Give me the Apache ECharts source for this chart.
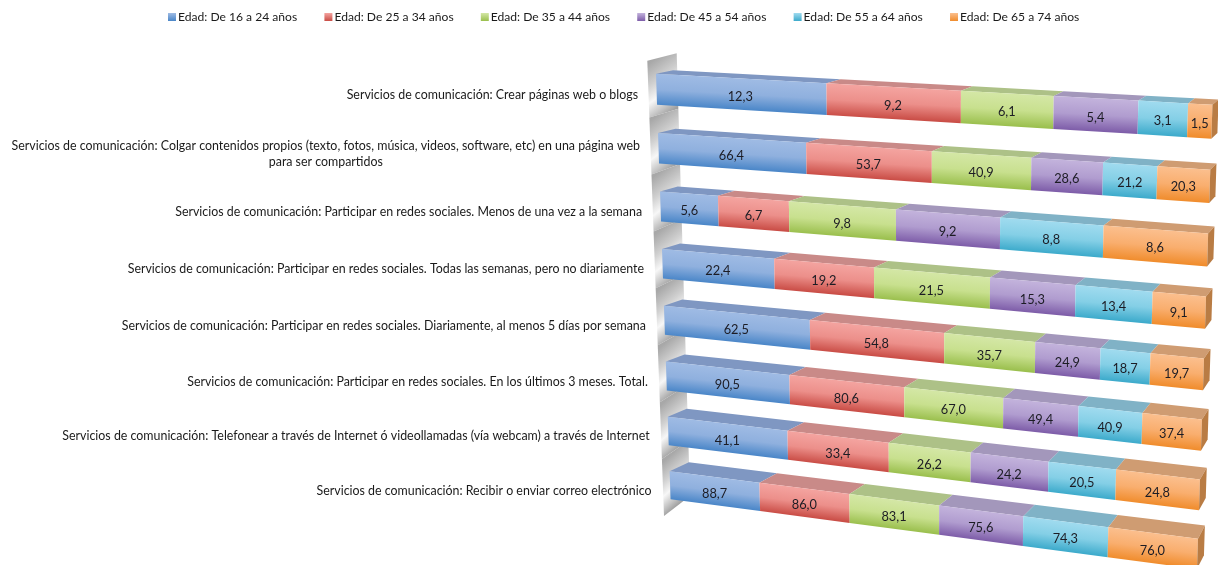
<!DOCTYPE html>
<html><head><meta charset="utf-8">
<style>html,body{margin:0;padding:0;background:#fff}#c{width:1218px;height:565px}</style>
<script src="https://cdn.jsdelivr.net/npm/echarts@6/dist/echarts.min.js"></script>
</head><body><div id="c"></div>
<script>
var categories = [
 "Servicios de comunicación: Crear páginas web o blogs",
 "Servicios de comunicación: Colgar contenidos propios (texto, fotos, música, videos, software, etc) en una página web\npara ser compartidos",
 "Servicios de comunicación: Participar en redes sociales. Menos de una vez a la semana",
 "Servicios de comunicación: Participar en redes sociales. Todas las semanas, pero no diariamente",
 "Servicios de comunicación: Participar en redes sociales. Diariamente, al menos 5 días por semana",
 "Servicios de comunicación: Participar en redes sociales. En los últimos 3 meses. Total.",
 "Servicios de comunicación: Telefonear a través de Internet ó videollamadas (vía webcam) a través de Internet",
 "Servicios de comunicación: Recibir o enviar correo electrónico"
];
var names = ["Edad: De 16 a 24 años","Edad: De 25 a 34 años","Edad: De 35 a 44 años","Edad: De 45 a 54 años","Edad: De 55 a 64 años","Edad: De 65 a 74 años"];
var age16 = [12.3,66.4,5.6,22.4,62.5,90.5,41.1,88.7];
var age25 = [9.2,53.7,6.7,19.2,54.8,80.6,33.4,86.0];
var age35 = [6.1,40.9,9.8,21.5,35.7,67.0,26.2,83.1];
var age45 = [5.4,28.6,9.2,15.3,24.9,49.4,24.2,75.6];
var age55 = [3.1,21.2,8.8,13.4,18.7,40.9,20.5,74.3];
var age65 = [1.5,20.3,8.6,9.1,19.7,37.4,24.8,76.0];
var groups = [age16,age25,age35,age45,age55,age65];

var W = 1218, H = 565, FONT = 'Lato', BAR = 0.52;
var frontTop = ['#9fbbe4','#f4a4a0','#d4e7a6','#c3b3dc','#a0dbef','#fbbf8e'];
var frontMid = ['#8fb0de','#ec8f8a','#c8e08e','#b09ccf','#84cfe6','#f9ae6e'];
var frontBot = ['#4a86c8','#c94c45','#9abf4d','#7d5ca8','#3caacb','#f08c2c'];
var topFace  = ['#7f97c2','#c98a88','#adc187','#a397bb','#80b2c6','#cf9c72'];
var sideFace = '#b97c44';

function homography(q){
  var x0=q[0][0],y0=q[0][1],x1=q[1][0],y1=q[1][1],x2=q[2][0],y2=q[2][1],x3=q[3][0],y3=q[3][1];
  var dx1=x1-x2,dx2=x3-x2,sx=x0-x1+x2-x3,dy1=y1-y2,dy2=y3-y2,sy=y0-y1+y2-y3;
  var den=dx1*dy2-dx2*dy1,g=(sx*dy2-dx2*sy)/den,h=(dx1*sy-sx*dy1)/den;
  var a=x1-x0+g*x1,b=x3-x0+h*x3,d=y1-y0+g*y1,e=y3-y0+h*y3;
  return function(u,v){var w=g*u+h*v+1;return [(a*u+b*v+x0)/w,(d*u+e*v+y0)/w];};
}
var front = homography([[655.5,59.5],[1213,89],[1196.5,583],[671,512]]);
var back  = homography([[672.5,56],[1219,84],[1203.5,569],[690.5,502.5]]);
function lerp(a,b,t){return [a[0]+(b[0]-a[0])*t,a[1]+(b[1]-a[1])*t];}

function poly(pts,fill){return {type:'polygon',shape:{points:pts},style:{fill:fill,stroke:null}};}
function grad(tl,tr,bl,br,s){
  var P=lerp(tl,tr,.5),Q=lerp(bl,br,.5),ex=tr[0]-tl[0],ey=tr[1]-tl[1],L=Math.hypot(ex,ey)||1;
  var nx=-ey/L,ny=ex/L,h=(Q[0]-P[0])*nx+(Q[1]-P[1])*ny;
  return {type:'linear',global:true,x:P[0],y:P[1],x2:P[0]+nx*h,y2:P[1]+ny*h,
    colorStops:[{offset:0,color:frontTop[s]},{offset:.5,color:frontMid[s]},{offset:1,color:frontBot[s]}]};
}
function segment(s){
  return function(params,api){
    var start=api.value(0),end=api.value(1),row=api.value(2),val=api.value(3);
    var a=api.coord([start,row]),b=api.coord([end,row]),band=api.size([0,1])[1];
    var u0=a[0]/W,u1=b[0]/W,vc=a[1]/H,hv=band/H*BAR/2,v0=vc-hv,v1=vc+hv;
    var tl=front(u0,v0),tr=front(u1,v0),bl=front(u0,v1),br=front(u1,v1);
    var btl=back(u0,v0),btr=back(u1,v0),bbr=back(u1,v1);
    var kids=[poly([tl,tr,btr,btl],topFace[s]),poly([tl,tr,br,bl],grad(tl,tr,bl,br,s))];
    if(s===5) kids.push(poly([tr,btr,bbr,br],sideFace));
    var c=front((u0+u1)/2,vc);
    kids.push({type:'text',style:{text:val.toFixed(1).replace('.',','),x:c[0],y:c[1]+2.5,align:'center',verticalAlign:'middle',font:'12.8px '+FONT,fill:'#1c1c24'}});
    return {type:'group',children:kids};
  };
}
var measure=document.createElement('canvas').getContext('2d');
function labelItem(params,api){
  var row=api.value(0),text=categories[row];
  var p=api.coord([0,row]),a=front(p[0]/W,p[1]/H);
  measure.font='12.4px '+FONT;
  var w=measure.measureText(text.split('\n')[0]).width;
  return {type:'text',style:{text:text,x:a[0]-18.5-w/2,y:a[1]+5.5,align:'center',verticalAlign:'middle',font:'12.4px '+FONT,lineHeight:16,fill:'#1a1a1a'}};
}
function wallItem(params,api){
  var row=api.value(0),n=categories.length,t0=row/n,t1=(row+1)/n;
  var A0=[647.3,60.7],A1=[664,516],B0=[676.7,53.3],B1=[690,496];
  var a=lerp(A0,A1,t0),b=lerp(B0,B1,t0),c=lerp(B0,B1,t1),d=lerp(A0,A1,t1);
  return {type:'polygon',shape:{points:[a,b,c,d]},style:{
    fill:{type:'linear',global:true,x:a[0],y:a[1]+4,x2:c[0],y2:c[1]-2,colorStops:[
      {offset:0,color:'#a8a8a8'},{offset:.35,color:'#d0d0d0'},{offset:.62,color:'#f7f7f7'},{offset:.85,color:'#c4c4c4'},{offset:1,color:'#a0a0a0'}]},
    stroke:null}};
}
var series=[{type:'custom',name:'pared',silent:true,renderItem:wallItem,data:categories.map(function(_,i){return [i];}),encode:{y:0},z:1}];
groups.forEach(function(g,s){
  series.push({type:'custom',name:names[s],renderItem:segment(s),z:3,silent:true,
    encode:{x:[0,1],y:2},
    data:g.map(function(v,r){
      var total=0,before=0;
      groups.forEach(function(o,k){total+=o[r];if(k<s)before+=o[r];});
      return [before/total*100,(before+v)/total*100,r,v];
    })});
});
series.push({type:'custom',name:'etiquetas',silent:true,renderItem:labelItem,data:categories.map(function(_,i){return [i];}),encode:{y:0},z:4});

var chart=echarts.init(document.getElementById('c'),null,{renderer:'canvas',width:W,height:H});
chart.setOption({
  animation:false,
  backgroundColor:'#ffffff',
  grid:{left:0,right:0,top:0,bottom:0,containLabel:false},
  xAxis:{type:'value',min:0,max:100,show:false},
  yAxis:{type:'category',inverse:true,data:categories,show:false},
  legend:{left:163,top:6,itemWidth:8,itemHeight:8,itemGap:27.2,icon:'rect',selectedMode:false,
    textStyle:{fontFamily:FONT,fontSize:12.1,color:'#1a1a1a',padding:[0,0,0,-3]},
    data:names.map(function(n,i){return {name:n,icon:'rect',itemStyle:{color:{type:'linear',x:0,y:0,x2:0,y2:1,colorStops:[{offset:0,color:frontTop[i]},{offset:1,color:frontBot[i]}]}}};})},
  series:series
});
</script></body></html>
